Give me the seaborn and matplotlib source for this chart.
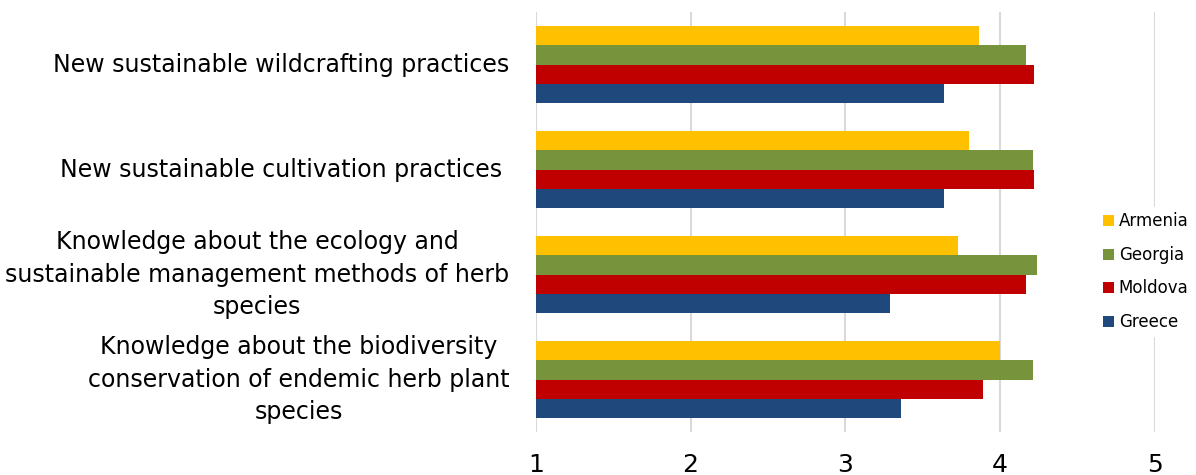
import pandas as pd
import matplotlib
matplotlib.use('Agg')
import matplotlib.pyplot as plt
import seaborn as sns

# Data
categories = [
    'New sustainable wildcrafting practices',
    'New sustainable cultivation practices ',
    'Knowledge about the ecology and\nsustainable management methods of herb\nspecies',
    'Knowledge about the biodiversity\nconservation of endemic herb plant\nspecies',
]
countries = ['Armenia', 'Georgia', 'Moldova', 'Greece']
armenia = [3.86, 3.80, 3.73, 4.00]
georgia = [4.17, 4.21, 4.24, 4.21]
moldova = [4.22, 4.22, 4.17, 3.89]
greece = [3.64, 3.64, 3.29, 3.36]
colors = ['#FFC000', '#77933C', '#C00000', '#1F497D']

# Build long table for seaborn
rows = []
for country, vals in zip(countries, [armenia, georgia, moldova, greece]):
    for cat, v in zip(categories, vals):
        rows.append({'Category': cat, 'Country': country, 'Score': v})
df = pd.DataFrame(rows)

sns.set_style('white')
plt.rcParams['font.family'] = ['DejaVu Sans']
plt.rcParams['text.color'] = 'black'
plt.rcParams['xtick.color'] = 'black'
plt.rcParams['ytick.color'] = 'black'

fig = plt.figure(figsize=(11.96, 4.75), dpi=100)
ax = fig.add_axes([0.448, 0.0905, 0.5177, 0.8842])

sns.barplot(data=df, y='Category', x='Score', hue='Country', order=categories,
            hue_order=countries, palette=colors, width=0.73, linewidth=0,
            saturation=1, orient='h', ax=ax)

ax.set_xlim(1, 5)
ax.set_ylim(3.5, -0.5)
ax.set_xticks([1, 2, 3, 4, 5])
ax.set_xticklabels(['1', '2', '3', '4', '5'], fontsize=18)
ax.set_xlabel('')
ax.set_ylabel('')
ax.grid(axis='x', color='#D9D9D9', linewidth=1.5)
ax.set_axisbelow(True)
for s in ax.spines.values():
    s.set_visible(False)
ax.tick_params(axis='x', length=0, pad=15)
ax.tick_params(axis='y', length=0, pad=19)
for lbl in ax.get_yticklabels():
    lbl.set_fontsize(17)
    lbl.set_multialignment('center')
    lbl.set_linespacing(1.43)
    lbl.set_verticalalignment('center')

leg = ax.legend(loc='center left', bbox_to_anchor=(0.911, 0.428),
                bbox_transform=fig.transFigure, frameon=True, fontsize=12,
                handlelength=0.65, handleheight=0.65, handletextpad=0.3,
                labelspacing=0.93, borderpad=0.3)
leg.get_frame().set_edgecolor('white')
leg.get_frame().set_facecolor('white')
leg.get_frame().set_alpha(1)

fig.savefig('out.png', dpi=100)
